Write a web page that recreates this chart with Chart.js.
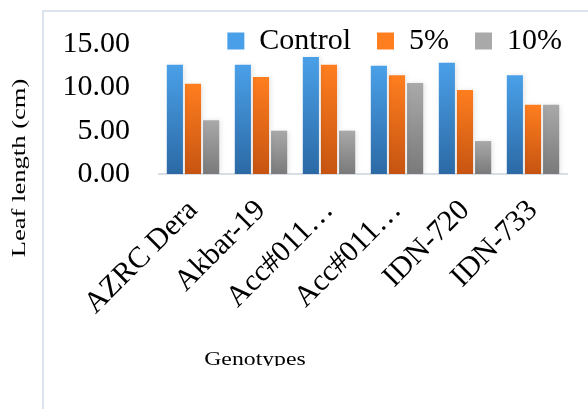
<!DOCTYPE html>
<html><head><meta charset="utf-8">
<script src="https://cdn.jsdelivr.net/npm/chart.js@4/dist/chart.umd.min.js"></script>
<style>
html,body{margin:0;padding:0;background:#fff;width:588px;height:409px;overflow:hidden;position:relative;font-family:'Liberation Serif','Times New Roman',serif;}
#frame{position:absolute;left:42px;top:10px;width:600px;height:500px;border-left:2px solid #dde3ec;border-top:2px solid #dde3ec;}
#wrap{position:absolute;left:0;top:-3px;width:588px;height:412px;}
#ytitle{position:absolute;left:-81.4px;top:156.5px;width:200px;height:22px;line-height:22px;font-size:19px;text-align:center;transform:rotate(-90deg) scaleX(1.4);color:#000;white-space:nowrap;}
#xtitle{position:absolute;left:155px;top:348px;width:200px;height:18px;overflow:hidden;color:#000;}
#xtitle span{display:block;line-height:22px;font-size:19px;text-align:center;transform:scaleX(1.25);white-space:nowrap;}
</style></head>
<body>
<div id="frame"></div>
<div id="wrap"><canvas id="c" width="588" height="412"></canvas></div>
<div id="ytitle">Leaf length (cm)</div>
<div id="xtitle"><span>Genotypes</span></div>
<script>
const categories = ['AZRC Dera', 'Akbar-19', 'Acc#011…', 'Acc#011…', 'IDN-720', 'IDN-733'];
const seriesNames = ['Control', '5%', '10%'];
const controlValues = [12.6, 12.6, 13.5, 12.5, 12.85, 11.4];
const pct5Values = [10.4, 11.2, 12.6, 11.4, 9.7, 8.0];
const pct10Values = [6.2, 5.0, 5.0, 10.5, 3.8, 8.0];
const yMin = 0, yMax = 15, yStep = 5;

const FONT = "'Liberation Serif', 'Times New Roman', serif";
Chart.defaults.font.family = FONT;
Chart.defaults.color = '#000';

function grad(top, mid, bottom) {
  return (ctx) => {
    const chart = ctx.chart;
    if (ctx.type !== 'data' || !chart.chartArea || typeof ctx.raw !== 'number') return mid;
    const ys = chart.scales.y;
    const y0 = ys.getPixelForValue(0), y1 = ys.getPixelForValue(ctx.raw);
    if (!isFinite(y0) || !isFinite(y1) || y0 === y1) return mid;
    const g = chart.ctx.createLinearGradient(0, y1, 0, y0);
    g.addColorStop(0, top);
    g.addColorStop(1, bottom);
    return g;
  };
}

const shadowPlugin = {
  id: 'barShadow',
  beforeDatasetsDraw(chart) {
    const c = chart.ctx;
    c.save();
    c.shadowColor = 'rgba(0,0,0,0.10)';
    c.shadowBlur = 5;
    c.shadowOffsetX = 2;
    c.shadowOffsetY = 0;
  },
  afterDatasetsDraw(chart) { chart.ctx.restore(); }
};

// let the legend text overhang its layout box (the legend sits over the top of the plot)
const legendOverhang = {
  id: 'legendOverhang',
  afterLayout(chart) {
    const l = chart.legend;
    if (l) { l.height += 30; l.bottom = l.top + l.height; }
  }
};

new Chart(document.getElementById('c'), {
  type: 'bar',
  data: {
    labels: categories,
    datasets: [
      { label: seriesNames[0], data: controlValues, backgroundColor: grad('#4aa0e8', '#3c84c8', '#2c69a5') },
      { label: seriesNames[1], data: pct5Values, backgroundColor: grad('#ff7e1f', '#e56a16', '#c65411') },
      { label: seriesNames[2], data: pct10Values, backgroundColor: grad('#a9a9a9', '#929292', '#7a7a7a') }
    ]
  },
  options: {
    responsive: false,
    animation: false,
    devicePixelRatio: 1,
    layout: { padding: 0 },
    datasets: { bar: { categoryPercentage: 0.8, barPercentage: 0.89, borderWidth: 0 } },
    plugins: {
      legend: {
        position: 'top', align: 'end', maxHeight: 44,
        labels: { boxWidth: 17, boxHeight: 17, padding: 26, font: { size: 30, family: FONT }, color: '#000' }
      },
      tooltip: { enabled: false },
      title: { display: false }
    },
    scales: {
      x: {
        grid: { display: false, drawTicks: false },
        border: { display: true, color: '#d9dde5', width: 2 },
        ticks: { maxRotation: 45, minRotation: 45, autoSkip: false, padding: 19, font: { size: 30, family: FONT }, color: '#000' },
        afterFit(s) { s.height = 235; }
      },
      y: {
        min: yMin, max: yMax,
        grid: { display: false, drawTicks: false },
        border: { display: false },
        ticks: { stepSize: yStep, padding: 29, font: { size: 30, family: FONT }, color: '#000', callback: (v) => Number(v).toFixed(2) },
        afterFit(s) { s.width = 159; }
      },
      y2: {
        type: 'linear', position: 'right', display: true,
        grid: { display: false, drawTicks: false },
        border: { display: false },
        ticks: { display: false },
        afterFit(s) { s.width = 21; }
      }
    }
  },
  plugins: [shadowPlugin, legendOverhang]
});
</script>
</body></html>
